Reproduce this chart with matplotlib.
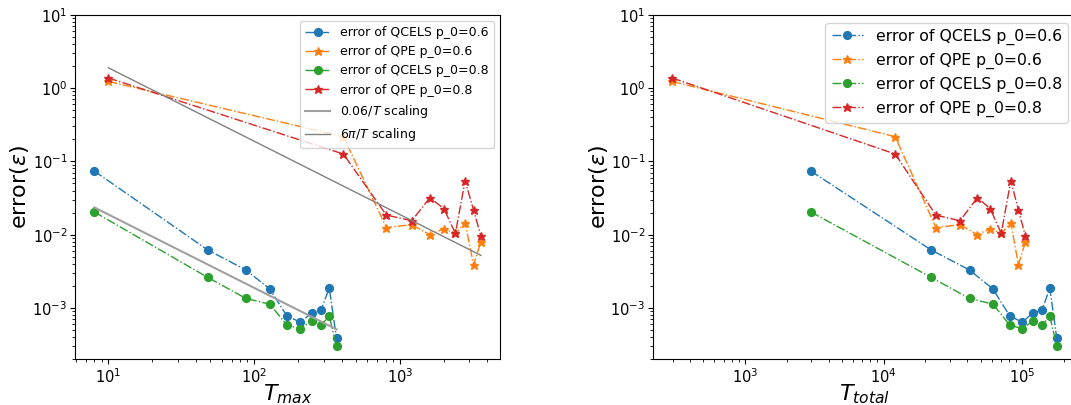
import numpy as np
import matplotlib
matplotlib.use("Agg")
import matplotlib.pyplot as plt

# ---- data ----
T_max_qcels = [8, 48, 88, 128, 168, 208, 248, 288, 328, 368]
T_max_qpe = [10, 410, 810, 1210, 1610, 2010, 2410, 2810, 3210, 3610]
T_total_qcels = [2980, 21970, 41600, 61400, 81100, 100000, 118800, 138700, 157900, 177200]
T_total_qpe = [298, 12100, 23800, 35500, 47400, 58700, 70400, 82600, 93700, 105400]

err_qcels_06 = [0.0738, 0.0062, 0.0033, 0.00182, 0.00078, 0.00064, 0.000855, 0.00094, 0.00187, 0.000385]
err_qpe_06 = [1.23, 0.217, 0.0125, 0.0137, 0.0100, 0.0121, 0.0104, 0.0146, 0.0039, 0.0080]
err_qcels_08 = [0.0204, 0.00262, 0.00135, 0.00113, 0.000586, 0.000523, 0.000665, 0.000586, 0.00077, 0.000306]
err_qpe_08 = [1.37, 0.126, 0.0185, 0.0155, 0.032, 0.0226, 0.0104, 0.0545, 0.0217, 0.0095]

labels = ["error of QCELS p_0=0.6", "error of QPE p_0=0.6",
          "error of QCELS p_0=0.8", "error of QPE p_0=0.8"]
ref_labels = [r"$0.06/T$ scaling", r"$6\pi/T$ scaling"]
c_low = 0.06 * np.pi
c_high = 6 * np.pi

fig = plt.figure(figsize=(10.71, 4.05), dpi=100)
W, H = 1071.0, 405.0
bottom = 1 - 359.3 / H
height = (359.3 - 14.7) / H
ax1 = fig.add_axes([75 / W, bottom, 425.3 / W, height])
ax2 = fig.add_axes([653 / W, bottom, 423 / W, height])

lw = 1.0
ms_o = 5.6
ms_s = 6.3

def draw(ax, xq, xp):
    ax.plot(xq, err_qcels_06, marker="o", ls="-.", lw=lw, ms=ms_o, color="C0", label=labels[0])
    ax.plot(xp, err_qpe_06, marker="*", ls="-.", lw=lw, ms=ms_s, color="C1", label=labels[1])
    ax.plot(xq, err_qcels_08, marker="o", ls="-.", lw=lw, ms=ms_o, color="C2", label=labels[2])
    ax.plot(xp, err_qpe_08, marker="*", ls="-.", lw=lw, ms=ms_s, color="C3", label=labels[3])

draw(ax1, T_max_qcels, T_max_qpe)
Tq = np.array(T_max_qcels, dtype=float)
Tp = np.array(T_max_qpe, dtype=float)
ax1.plot(Tq, c_low / Tq, color="#a0a0a0", lw=1.5, label=ref_labels[0])
ax1.plot(Tp, c_high / Tp, color="#808080", lw=1.0, label=ref_labels[1])

draw(ax2, T_total_qcels, T_total_qpe)

for ax, xl, ylx in ((ax1, r"$T_{max}$", -0.1035), (ax2, r"$T_{total}$", -0.102)):
    ax.set_xscale("log")
    ax.set_yscale("log")
    ax.set_ylim(2.0e-4, 10)
    ax.set_xlabel(xl, fontsize=16)
    ax.set_ylabel(r"error($\epsilon$)", fontsize=16)
    ax.tick_params(labelsize=10.5, pad=2.0)
    ax.xaxis.set_label_coords(0.5, -0.068)
    ax.yaxis.set_label_coords(ylx, 0.5)

ax1.legend(loc="upper right", fontsize=9)
ax2.legend(loc="upper right", fontsize=11.3)

fig.savefig("out.png", dpi=100)
